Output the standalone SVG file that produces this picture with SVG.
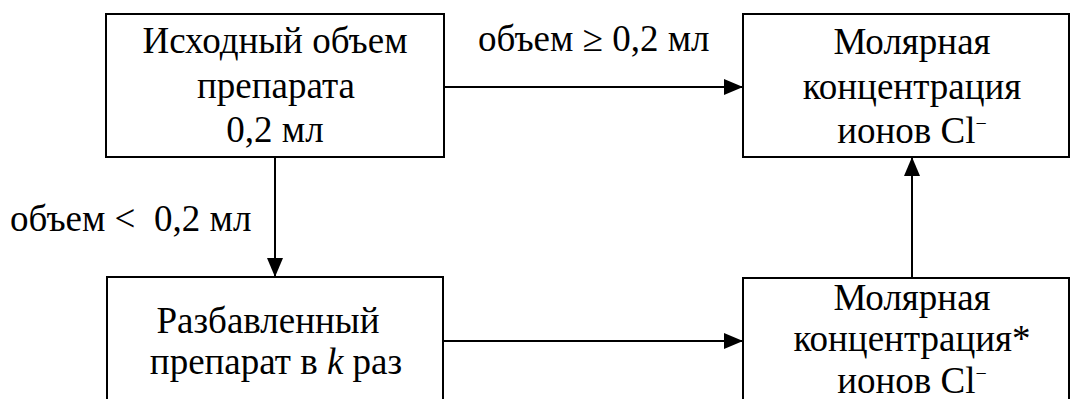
<svg xmlns="http://www.w3.org/2000/svg" width="1070" height="399" viewBox="0 0 1070 399">
<style>
.box{fill:#fff;stroke:#000;stroke-width:2}
.t{font-family:'Liberation Serif','Times New Roman',serif;font-size:37px;fill:#000;text-anchor:middle}
.l{font-family:'Liberation Serif','Times New Roman',serif;font-size:37px;fill:#000}
.sup{font-size:20px}
.c{stroke:#000;stroke-width:2;fill:none}
</style>
<defs>
<marker id="ah" markerWidth="20" markerHeight="16" refX="19" refY="8" orient="auto" markerUnits="userSpaceOnUse">
<path d="M0,0 L19,8 L0,16 Z" fill="#000"/>
</marker>
</defs>
<rect width="1070" height="399" fill="#fff"/>
<g id="connectors">
<line class="c" x1="444" y1="87" x2="743" y2="87" marker-end="url(#ah)"/>
<line class="c" x1="275" y1="157" x2="275" y2="277" marker-end="url(#ah)"/>
<line class="c" x1="443" y1="341" x2="743" y2="341" marker-end="url(#ah)"/>
<line class="c" x1="912" y1="278" x2="912" y2="157" marker-end="url(#ah)"/>
<text class="l" x="478" y="51">объем ≥ 0,2 мл</text>
<text class="l" x="10" y="231" xml:space="preserve">объем &lt;  0,2 мл</text>
</g>
<g id="n1">
<rect class="box" x="106" y="14" width="338" height="143"/>
<text class="t" x="275" y="53">Исходный объем</text>
<text class="t" x="276" y="98">препарата</text>
<text class="t" x="275" y="142">0,2 мл</text>
</g>
<g id="n2">
<rect class="box" x="743" y="14" width="326" height="143"/>
<text class="t" x="912" y="54">Молярная</text>
<text class="t" x="912" y="99">концентрация</text>
<text class="t" x="912" y="143">ионов Cl<tspan class="sup" dy="-13">−</tspan></text>
</g>
<g id="n3">
<rect class="box" x="107" y="277" width="336" height="140"/>
<text class="t" x="268" y="333">Разбавленный</text>
<text class="t" x="276" y="374">препарат в <tspan font-style="italic">k</tspan> раз</text>
</g>
<g id="n4">
<rect class="box" x="743" y="278" width="326" height="140"/>
<text class="t" x="912" y="310">Молярная</text>
<text class="t" x="912" y="351">концентрация*</text>
<text class="t" x="912" y="393">ионов Cl<tspan class="sup" dy="-13">−</tspan></text>
</g>
</svg>
